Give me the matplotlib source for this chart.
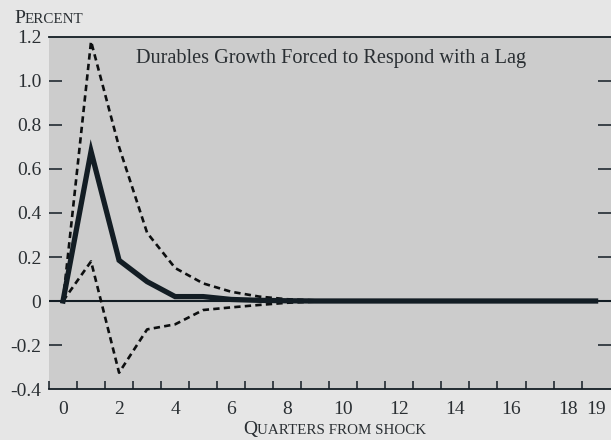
import matplotlib
matplotlib.use("Agg")
import matplotlib.pyplot as plt
import numpy as np

quarters = list(range(20))
response = [0, 0.68, 0.185, 0.088, 0.02, 0.02, 0.007, 0.003, 0.001, 0, 0, 0, 0, 0, 0, 0, 0, 0, 0, 0]
upper = [0, 1.18, 0.70, 0.31, 0.15, 0.08, 0.042, 0.02, 0.008, 0.003, 0.001, 0, 0, 0, 0, 0, 0, 0, 0, 0]
lower = [0, 0.18, -0.326, -0.129, -0.106, -0.041, -0.029, -0.018, -0.008, -0.003, -0.001, 0, 0, 0, 0, 0, 0, 0, 0, 0]
xtick_vals = [0, 2, 4, 6, 8, 10, 12, 14, 16, 18, 19]
ytick_vals = [-0.4, -0.2, 0, 0.2, 0.4, 0.6, 0.8, 1.0, 1.2]
ytick_labels = ["-0.4", "-0.2", "0", "0.2", "0.4", "0.6", "0.8", "1.0", "1.2"]
title = "Durables Growth Forced to Respond with a Lag"

W, H = 611, 440
DPI = 100
DARK = "#131d24"
TXT = "#2a2f33"
FONT = "Liberation Serif"
plt.rcParams["font.family"] = [FONT, "DejaVu Serif"]

fig = plt.figure(figsize=(W / DPI, H / DPI), dpi=DPI, facecolor="#e6e6e6")
ax = fig.add_axes([49 / W, 1 - 389 / H, (W - 49) / W, 352 / H])
ax.set_facecolor("#cccccc")
ax.set_xlim(-0.5, 19.55)
ax.set_ylim(-0.4, 1.2)

ax.axhline(0, color=DARK, lw=1.5, zorder=2)
ax.plot(quarters, upper, color="#0d0f10", lw=1.9, linestyle=(0, (2.4, 1.6)), zorder=3)
ax.plot(quarters, lower, color="#0d0f10", lw=1.9, linestyle=(0, (2.4, 1.6)), zorder=3)
ax.plot(quarters, response, color=DARK, lw=3.8, solid_joinstyle="miter", zorder=4)

for s in ["left", "right"]:
    ax.spines[s].set_visible(False)
for s in ["top", "bottom"]:
    ax.spines[s].set_color(DARK)
    ax.spines[s].set_linewidth(1.3)

# y ticks: inward on both sides, labels on left
ax.set_yticks(ytick_vals)
ax.set_yticklabels(ytick_labels)
ax.tick_params(axis="y", which="major", direction="in", length=9.5, width=1.1,
               color=DARK, left=True, right=True, labelsize=14, labelcolor=TXT, pad=5.5)
for t in ax.yaxis.get_major_ticks():
    if abs(t.get_loc() - 1.2) < 1e-6 or abs(t.get_loc() + 0.4) < 1e-6:
        t.tick1line.set_visible(False)
        t.tick2line.set_visible(False)

# x ticks: labels at even quarters (no marks), marks at half quarters
ax.set_xticks(xtick_vals)
ax.set_xticklabels([str(v) for v in xtick_vals])
ax.tick_params(axis="x", which="major", length=0, labelsize=14, labelcolor=TXT, pad=8.5)
ax.set_xticks(np.arange(-0.5, 19.0, 1.0), minor=True)
ax.tick_params(axis="x", which="minor", direction="in", length=6, width=1.1, color=DARK,
               top=False)

ax.text(331 / W, 1 - 63 / H, title, transform=fig.transFigure, ha="center", va="baseline",
        fontsize=14.6, color=TXT)


def small_caps(x_px, y_px, first, rest, big, small, ha="left"):
    t1 = fig.text(x_px / W, 1 - y_px / H, first, fontsize=big, color=TXT, va="baseline")
    t2 = fig.text(0, 1 - y_px / H, rest, fontsize=small, color=TXT, va="baseline")
    fig.canvas.draw()
    r = fig.canvas.get_renderer()
    b1 = t1.get_window_extent(r)
    b2 = t2.get_window_extent(r)
    total = b1.width + b2.width
    x0 = x_px - total / 2 if ha == "center" else x_px
    t1.set_x(x0 / W)
    t2.set_x((x0 + b1.width) / W)


small_caps(14, 23, "P", "ERCENT", 14, 10.8)
small_caps(335, 434, "Q", "UARTERS FROM SHOCK", 14, 10.8, ha="center")

fig.savefig("out.png", dpi=DPI, facecolor=fig.get_facecolor())
